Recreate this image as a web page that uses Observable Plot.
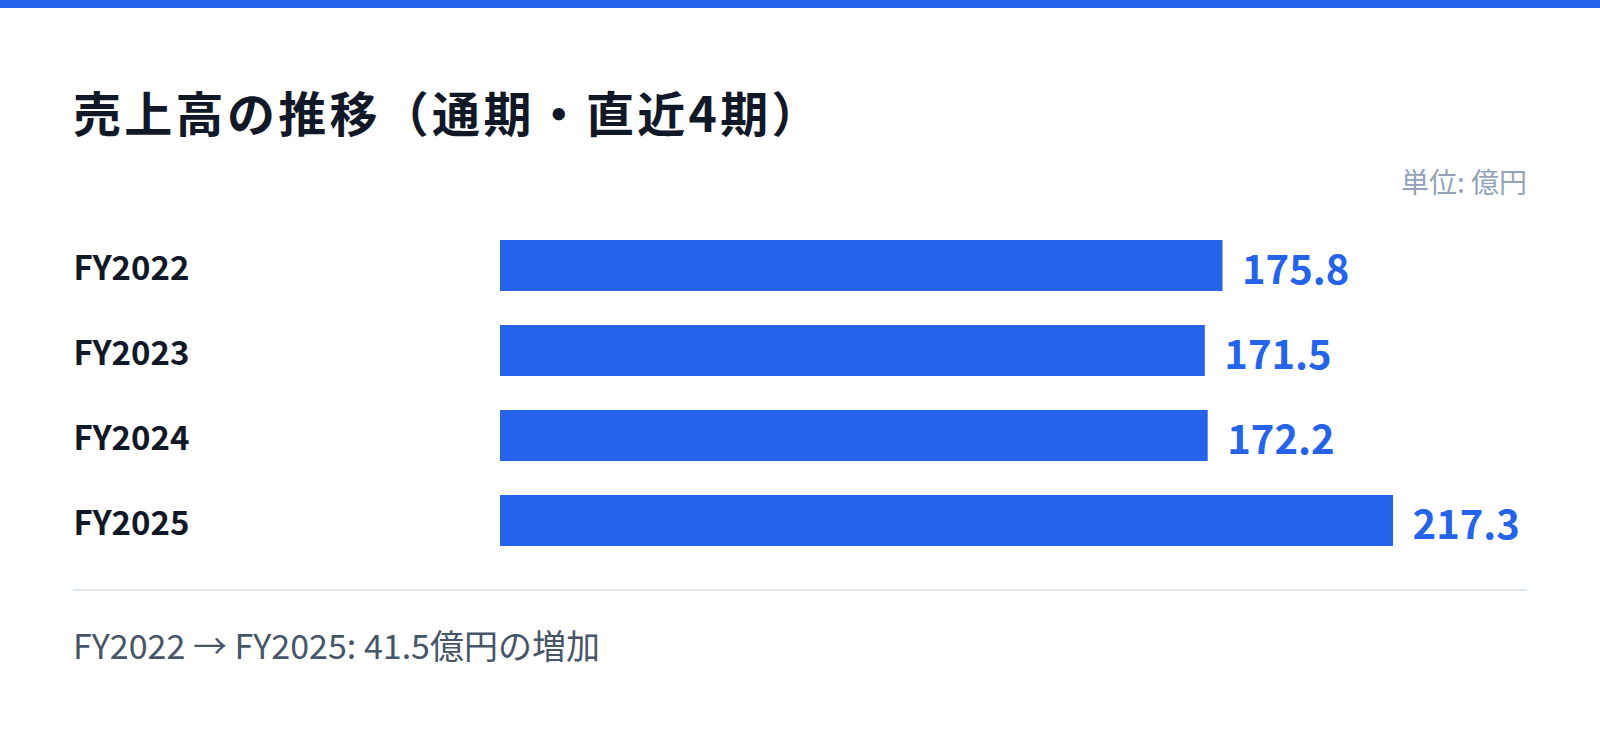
<!DOCTYPE html>
<html><head><meta charset="utf-8">
<script src="https://cdn.jsdelivr.net/npm/d3@7"></script>
<script src="https://cdn.jsdelivr.net/npm/@observablehq/plot@0.6"></script>
<style>
html,body{margin:0;padding:0;background:#fff;}
body{width:1600px;height:733px;position:relative;overflow:hidden;font-family:"Noto Sans CJK JP","Noto Sans",sans-serif;}
#topbar{position:absolute;left:0;top:0;width:1600px;height:8px;background:#2563eb;}
#title{position:absolute;left:73px;top:81px;margin:0;font-size:48px;font-weight:700;color:#111827;line-height:60px;letter-spacing:3.3px;white-space:nowrap;}
#unit{position:absolute;right:73px;top:163px;font-size:28px;color:#94a3b8;line-height:36px;}
#chart{position:absolute;left:73px;top:204px;}
#rule{position:absolute;left:73px;top:589px;width:1454px;height:2px;background:#e2e8f0;}
#note{position:absolute;left:73px;top:622px;font-size:34px;font-weight:400;color:#475569;line-height:46px;white-space:nowrap;}
</style></head>
<body>
<div id="topbar"></div>
<h1 id="title">売上高の推移（通期・直近4期）</h1>
<div id="unit">単位: 億円</div>
<div id="chart"></div>
<div id="rule"></div>
<div id="note">FY2022 → FY2025: 41.5億円の増加</div>
<script>
const years = ["FY2022","FY2023","FY2024","FY2025"];
const sales = [175.8, 171.5, 172.2, 217.3];
const data = years.map((fy,i)=>({fy, value: sales[i]}));
const maxV = d3.max(sales);
const chart = Plot.plot({
  width: 1454,
  height: 378,
  marginLeft: 427,
  marginRight: 0,
  marginTop: 0,
  marginBottom: 0,
  style: {fontFamily: '"Noto Sans CJK JP","Noto Sans",sans-serif', background: "transparent", overflow: "visible"},
  x: {domain: [0, maxV * 1.15], axis: null},
  y: {domain: years, padding: 0.4, axis: null},
  marks: [
    Plot.barX(data, {x: "value", y: "fy", fill: "#2563eb"}),
    Plot.text(data, {y: "fy", text: "fy", frameAnchor: "left", textAnchor: "start", dx: -427, dy: 3, fontSize: 33, fontWeight: 700, fill: "#111827"}),
    Plot.text(data, {x: "value", y: "fy", text: d => d.value.toFixed(1), textAnchor: "start", dx: 19, dy: 5, fontSize: 40, fontWeight: 700, fill: "#2563eb"})
  ]
});
document.getElementById("chart").appendChild(chart);
</script>
</body></html>
